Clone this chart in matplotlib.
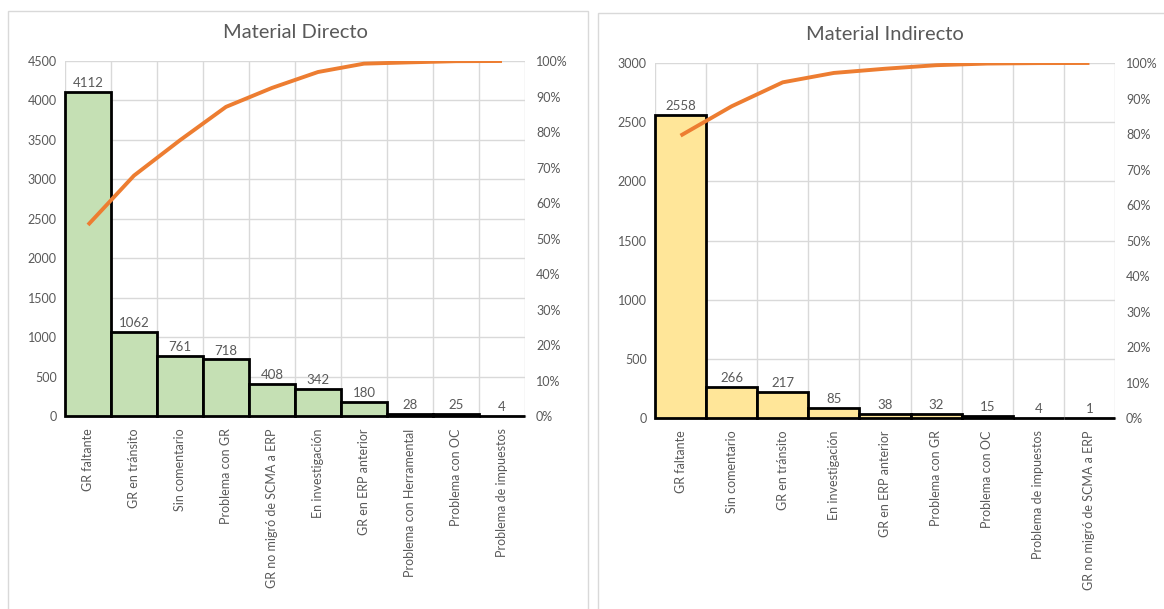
import numpy as np
import matplotlib.pyplot as plt
from matplotlib.patches import Rectangle
from matplotlib.ticker import PercentFormatter

plt.rcParams['font.family'] = ['Lato', 'DejaVu Sans']

# Material Directo
cat_md = ['GR faltante', 'GR en tránsito', 'Sin comentario', 'Problema con GR',
          'GR no migró de SCMA a ERP', 'En investigación', 'GR en ERP anterior',
          'Problema con Herramental', 'Problema con OC', 'Problema de impuestos']
val_md = [4112, 1062, 761, 718, 408, 342, 180, 28, 25, 4]

# Material Indirecto
cat_mi = ['GR faltante', 'Sin comentario', 'GR en tránsito', 'En investigación',
          'GR en ERP anterior', 'Problema con GR', 'Problema con OC',
          'Problema de impuestos', 'GR no migró de SCMA a ERP']
val_mi = [2558, 266, 217, 85, 38, 32, 15, 4, 1]

gray = '#595959'
grid = '#D9D9D9'
orange = '#ED7D31'

W, H = 1164, 609
fig = plt.figure(figsize=(W / 100, H / 100), dpi=100)

# chart borders like the excel chart area
fig.patches.append(Rectangle((7.5 / W, 1 - 660 / H), 580 / W, 649 / H,
                             transform=fig.transFigure, fill=False, ec=grid, lw=1))
fig.patches.append(Rectangle((598 / W, 1 - 660 / H), 600 / W, 647 / H,
                             transform=fig.transFigure, fill=False, ec=grid, lw=1))


def pareto(rect, cats, vals, color, ymax, title, title_y):
    ax = fig.add_axes(rect)
    n = len(vals)
    x = np.arange(n)
    bars = ax.bar(x, vals, width=1.0, color=color, edgecolor='black', linewidth=2, zorder=3)
    for b in bars:
        b.set_clip_on(False)
    for xi, v in zip(x, vals):
        ax.text(xi, v + ymax * 0.008, str(v), ha='center', va='bottom',
                fontsize=9.5, color=gray, zorder=4)
    ax.set_xlim(-0.5, n - 0.5)
    ax.set_ylim(0, ymax)
    ax.set_yticks(np.arange(0, ymax + 1, 500))
    ax.set_xticks(x)
    ax.set_xticklabels(cats, rotation=90, fontsize=9, color=gray)
    ax.set_xticks(np.arange(-0.5, n, 1), minor=True)
    ax.tick_params(axis='x', which='both', length=0, pad=9)
    ax.tick_params(axis='y', length=0, labelsize=9, labelcolor=gray, pad=6)
    ax.grid(True, axis='y', color=grid, lw=1, zorder=0)
    ax.grid(True, axis='x', which='minor', color=grid, lw=1, zorder=0)
    ax.grid(False, axis='x', which='major')
    for s in ['top', 'left', 'right']:
        ax.spines[s].set_visible(False)
    ax.spines['bottom'].set_color('#BFBFBF')
    ax.spines['bottom'].set_linewidth(1)
    ax.spines['bottom'].set_zorder(1)

    cum = np.cumsum(vals) / np.sum(vals)
    ax2 = ax.twinx()
    ax2.plot(x, cum, color=orange, lw=2.8, solid_capstyle='butt', zorder=5)
    ax2.set_ylim(0, 1)
    ax2.set_yticks(np.arange(0, 1.01, 0.1))
    ax2.yaxis.set_major_formatter(PercentFormatter(1.0, decimals=0))
    ax2.tick_params(axis='y', length=0, labelsize=9, labelcolor=gray, pad=8)
    for s in ax2.spines.values():
        s.set_visible(False)

    fig.text((rect[0] + rect[2] / 2), title_y, title, ha='center', va='center',
             fontsize=14.5, color=gray)
    return ax


pareto([65 / W, 1 - 416 / H, 460 / W, 355 / H], cat_md, val_md, '#C5E0B4',
       4500, 'Material Directo', 1 - 32 / H)
pareto([655 / W, 1 - 418 / H, 460 / W, 355 / H], cat_mi, val_mi, '#FFE699',
       3000, 'Material Indirecto', 1 - 35 / H)

fig.savefig('out.png', dpi=100)
